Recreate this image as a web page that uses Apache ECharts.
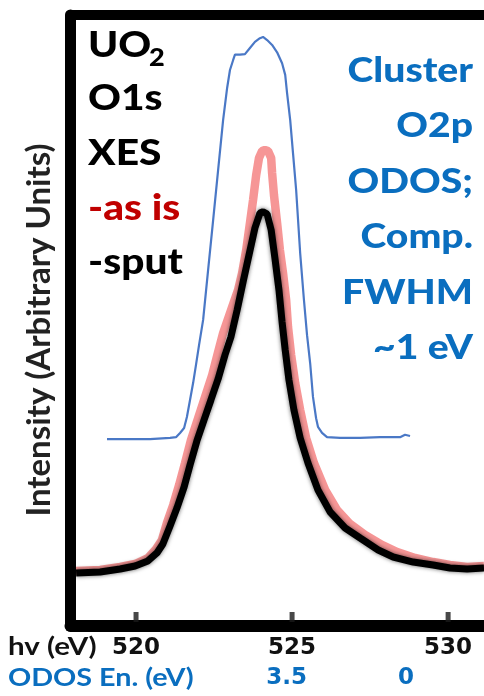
<!DOCTYPE html>
<html><head><meta charset="utf-8">
<script src="https://cdn.jsdelivr.net/npm/echarts@6/dist/echarts.min.js"></script>
<style>html,body{margin:0;padding:0;background:#fff}#c{width:484px;height:696px}</style>
</head><body><div id="c"></div>
<script>
// hv energies (eV) and intensities (arb. units)
const sputE = [518.08, 518.85, 519.49, 519.97, 520.38, 520.67, 520.86, 521.09, 521.31, 521.54, 521.73, 521.95, 522.18, 522.40, 522.63, 522.85, 523.04, 523.24, 523.43, 523.62, 523.81, 523.97, 524.07, 524.20, 524.33, 524.45, 524.58, 524.68, 524.78, 524.90, 525.06, 525.26, 525.51, 525.83, 526.22, 526.70, 527.18, 527.76, 528.24, 528.88, 529.52, 530.06, 530.61, 531.15];
const sputI = [8.67, 8.84, 9.33, 9.82, 10.64, 11.95, 13.42, 16.37, 19.31, 22.75, 26.35, 30.28, 33.72, 36.99, 40.43, 44.35, 47.30, 51.72, 56.30, 60.72, 65.14, 67.59, 67.8, 67.43, 64.81, 60.23, 54.99, 49.75, 45.17, 40.26, 35.35, 30.77, 26.68, 22.26, 18.66, 16.04, 14.40, 12.44, 11.29, 10.47, 9.98, 9.49, 9.33, 9.49];
const asIsE = [518.08, 518.85, 519.49, 519.97, 520.38, 520.64, 520.83, 520.99, 521.19, 521.38, 521.57, 521.76, 521.99, 522.21, 522.44, 522.63, 522.79, 523.08, 523.27, 523.40, 523.53, 523.65, 523.75, 523.85, 523.94, 524.04, 524.13, 524.23, 524.33, 524.36, 524.42, 524.52, 524.61, 524.71, 524.81, 524.87, 524.97, 525.10, 525.26, 525.45, 525.70, 526.06, 526.44, 526.86, 527.34, 527.88, 528.37, 528.94, 529.52, 530.06, 530.61, 531.15];
const asIsI = [9.00, 9.17, 9.66, 10.15, 11.13, 12.60, 14.08, 16.86, 19.80, 23.08, 26.68, 30.44, 34.04, 37.48, 41.08, 44.84, 47.95, 52.21, 54.99, 57.77, 61.54, 65.96, 69.72, 73.81, 76.60, 77.74, 77.91, 77.74, 76.60, 74.14, 70.54, 65.96, 61.54, 57.77, 53.36, 48.94, 44.35, 39.77, 35.35, 30.77, 26.68, 22.26, 18.99, 16.69, 14.89, 13.26, 12.11, 11.13, 10.47, 9.98, 9.66, 9.82];
const odosE = [519.07, 519.81, 520.45, 521.09, 521.28, 521.41, 521.54, 521.63, 521.73, 521.83, 521.92, 522.02, 522.15, 522.31, 522.47, 522.63, 522.79, 522.92, 523.01, 523.11, 523.17, 523.33, 523.49, 523.65, 523.81, 523.97, 524.07, 524.20, 524.36, 524.52, 524.68, 524.78, 524.84, 524.94, 525.03, 525.13, 525.26, 525.38, 525.48, 525.58, 525.67, 525.77, 525.83, 525.96, 526.12, 526.54, 527.18, 527.82, 528.46, 528.62, 528.78];
const odosI = [30.6, 30.6, 30.6, 30.8, 30.9, 31.6, 32.4, 34.2, 37.0, 39.8, 42.7, 46.0, 50.1, 58.3, 66.4, 74.6, 82.8, 88.1, 91.0, 92.6, 93.5, 93.5, 93.6, 94.6, 95.6, 96.2, 96.4, 95.9, 95.1, 93.9, 92.1, 90.2, 87.2, 82.8, 77.4, 71.4, 61.0, 53.4, 47.6, 43.0, 37.5, 34.0, 32.6, 31.6, 30.9, 30.8, 30.8, 30.9, 30.9, 31.3, 31.1];

const hvTicks = [520, 525, 530];
const odosTicks = [0, 3.5];
const leftLabels = ['O1s', 'XES', '-as is', '-sput'];
const leftColors = ['#000', '#000', '#c00000', '#000'];
const rightLabels = ['Cluster', 'O2p', 'ODOS;', 'Comp.', 'FWHM', '~1 eV'];
const yTitle = 'Intensity (Arbitrary Units)';
const hvTitle = 'hv (eV)';
const odosTitle = 'ODOS En. (eV)';

const zip = (a, b) => a.map((v, i) => [v, b[i]]);
const FONT = 'Lato';
const TICKFONT = 'DejaVu Sans';
const BLUE = '#0a6ebf';

const graphics = [];
graphics.push({type:'text', x:88, y:45, scaleX:1.13, style:{text:'UO', font:'900 36px '+FONT, fill:'#000', textVerticalAlign:'middle'}});
graphics.push({type:'text', x:149, y:58, scaleX:1.13, style:{text:'2', font:'900 24px '+FONT, fill:'#000', textVerticalAlign:'middle'}});
const leftBase = [98, 153, 208, 262];
leftLabels.forEach((t, i) => graphics.push({type:'text', x:88, y:leftBase[i], scaleX:1.13, style:{text:t, font:'900 36px '+FONT, fill:leftColors[i], textVerticalAlign:'middle'}}));
rightLabels.forEach((t, i) => graphics.push({type:'text', x:473, y:71 + i*55.5, scaleX:1.15, style:{text:t, font:'900 34px '+FONT, fill:BLUE, textAlign:'right', textVerticalAlign:'middle'}}));
graphics.push({type:'text', x:39, y:330, rotation:Math.PI/2, style:{text:yTitle, font:'bold 33px '+FONT, fill:'#222', textAlign:'center', textVerticalAlign:'middle'}});
graphics.push({type:'text', x:8, y:647, scaleX:1.18, style:{text:hvTitle, font:'bold 25px '+FONT, fill:'#111', textVerticalAlign:'middle'}});
graphics.push({type:'text', x:8, y:678, scaleX:1.15, style:{text:odosTitle, font:'bold 25px '+FONT, fill:BLUE, textVerticalAlign:'middle'}});

const frame = {color:'#000', cap:'round'};
const chart = echarts.init(document.getElementById('c'), null, {renderer:'canvas'});
chart.setOption({
  animation:false,
  backgroundColor:'#fff',
  grid:{left:70.5, top:15, right:0, bottom:70},
  xAxis:[{
    type:'value', min:517.9, max:531.15, position:'bottom',
    axisLine:{show:true, onZero:false, lineStyle:Object.assign({width:12}, frame)}, splitLine:{show:false},
    axisTick:{show:false},
    axisLabel:{customValues:hvTicks, margin:11, fontFamily:TICKFONT, fontWeight:'bold', fontSize:23, color:'#111'}
  },{
    type:'value', inverse:true, min:-2.29, max:9.84, position:'bottom',
    axisLine:{show:false}, splitLine:{show:false}, axisTick:{show:false},
    axisLabel:{customValues:odosTicks, margin:41, fontFamily:TICKFONT, fontWeight:'bold', fontSize:23, color:BLUE}
  },{
    type:'value', min:517.9, max:531.15, position:'top',
    axisLine:{show:true, onZero:false, lineStyle:Object.assign({width:10}, frame)}, splitLine:{show:false},
    axisTick:{show:false}, axisLabel:{show:false}
  }],
  yAxis:{type:'value', min:0, max:100, axisLine:{show:true, onZero:false, lineStyle:Object.assign({width:11}, frame)}, axisTick:{show:false}, axisLabel:{show:false}, splitLine:{show:false}},
  series:[
    {type:'line', name:'ODOS', data:zip(odosE, odosI), showSymbol:false, symbol:'none', lineStyle:{color:'#4a78c6', width:2.2}, z:2},
    {type:'line', name:'as is', data:zip(asIsE, asIsI), showSymbol:false, symbol:'none', lineStyle:{color:'rgba(238,45,45,0.5)', width:8.5}, z:3},
    {type:'line', name:'sput', data:zip(sputE, sputI), showSymbol:false, symbol:'none', lineStyle:{color:'#000', width:7, shadowBlur:4, shadowColor:'rgba(0,0,0,0.6)'}, z:4},
    {type:'scatter', name:'ticks', data:hvTicks.map(t => [t, 0]), symbol:'rect', symbolSize:[5, 10], symbolOffset:[0, -9], itemStyle:{color:'#1a1a1a'}, clip:false, silent:true, z:5}
  ],
  graphic:graphics
});
</script></body></html>
